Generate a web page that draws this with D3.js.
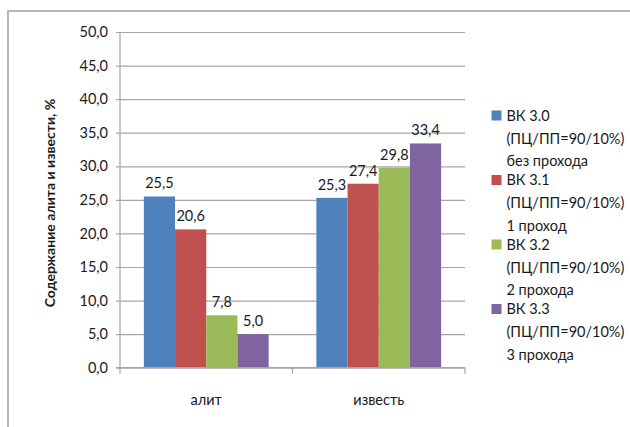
<!DOCTYPE html>
<html>
<head>
<meta charset="utf-8">
<script src="https://cdn.jsdelivr.net/npm/d3@7"></script>
<style>
  html, body { margin: 0; padding: 0; background: #fff; }
  svg { display: block; font-family: Lato, "Open Sans", sans-serif; }
</style>
</head>
<body>
<div id="chart"></div>
<script>
// Categories and series
const categories = ["алит", "известь"];
const seriesNames = [
  ["ВК 3.0", "(ПЦ/ПП=90/10%)", "без прохода"],
  ["ВК 3.1", "(ПЦ/ПП=90/10%)", "1 проход"],
  ["ВК 3.2", "(ПЦ/ПП=90/10%)", "2 прохода"],
  ["ВК 3.3", "(ПЦ/ПП=90/10%)", "3 прохода"]
];
const seriesColors = ["#4F81BD", "#C0504D", "#9BBB59", "#8064A2"];
// values per series: [алит, известь]
const vk30 = [25.5, 25.3];
const vk31 = [20.6, 27.4];
const vk32 = [7.8, 29.8];
const vk33 = [5.0, 33.4];
const seriesValues = [vk30, vk31, vk32, vk33];
const yTicks = [0, 5, 10, 15, 20, 25, 30, 35, 40, 45, 50];
const yTitle = "Содержание алита и извести, %";

const W = 630, H = 427;
const plot = { left: 120, right: 465, top: 32, bottom: 367.7 };
const gridColor = "#a6a6a6";
const textColor = "#1a1a1a";

const svg = d3.select("#chart").append("svg")
  .attr("width", W).attr("height", H);

svg.append("rect").attr("width", W).attr("height", H).attr("fill", "#fff");

// chart frame (runs off the right and bottom edges)
svg.append("rect")
  .attr("x", 8).attr("y", 11)
  .attr("width", 700).attr("height", 500)
  .attr("fill", "none").attr("stroke", "#a0a0a0").attr("stroke-width", 1.5);

const comma = v => d3.format(".1f")(v).replace(".", ",");

const y = d3.scaleLinear().domain([0, 50]).range([plot.bottom, plot.top]);
const x = d3.scaleBand().domain(categories).range([plot.left, plot.right]).padding(0);
const xs = d3.scaleBand().domain(d3.range(seriesValues.length))
  .range([0, x.bandwidth()]).paddingInner(0).paddingOuter(0.765);

// y axis: gridlines, ticks and labels
const yAxis = d3.axisLeft(y).tickValues(yTicks).tickFormat(comma)
  .tickSize(-(plot.right - plot.left)).tickPadding(12);
const gy = svg.append("g").attr("transform", `translate(${plot.left},0)`).call(yAxis);
gy.select(".domain").remove();
gy.selectAll(".tick line").attr("stroke", gridColor).attr("stroke-width", 1.2).attr("x1", -4);
gy.selectAll(".tick text")
  .attr("fill", textColor).attr("font-size", 14.5).attr("font-family", "Lato, sans-serif");

// vertical axis line
svg.append("line")
  .attr("x1", plot.left).attr("x2", plot.left)
  .attr("y1", plot.top).attr("y2", plot.bottom)
  .attr("stroke", gridColor).attr("stroke-width", 1.2);

// bars
const groups = svg.append("g").selectAll("g")
  .data(categories).join("g")
  .attr("transform", d => `translate(${x(d)},0)`);

groups.each(function(cat, ci) {
  const g = d3.select(this);
  seriesValues.forEach((vals, si) => {
    const v = vals[ci];
    g.append("rect")
      .attr("x", xs(si)).attr("width", xs.bandwidth())
      .attr("y", y(v)).attr("height", y(0) - y(v))
      .attr("fill", seriesColors[si]);
    g.append("text")
      .attr("x", xs(si) + xs.bandwidth() / 2)
      .attr("y", y(v) - 8)
      .attr("text-anchor", "middle")
      .attr("font-size", 14.5).attr("fill", textColor)
      .text(comma(v));
  });
});

// x axis line with category boundary ticks
svg.append("line")
  .attr("x1", plot.left - 4).attr("x2", plot.right)
  .attr("y1", plot.bottom).attr("y2", plot.bottom)
  .attr("stroke", gridColor).attr("stroke-width", 1.2);
const bounds = categories.map(c => x(c)).concat([x(categories[categories.length - 1]) + x.bandwidth()]);
svg.append("g").selectAll("line").data(bounds).join("line")
  .attr("x1", d => d).attr("x2", d => d)
  .attr("y1", plot.bottom).attr("y2", plot.bottom + 6)
  .attr("stroke", gridColor).attr("stroke-width", 1.2);
svg.append("g").selectAll("text").data(categories).join("text")
  .attr("x", d => x(d) + x.bandwidth() / 2)
  .attr("y", 405)
  .attr("text-anchor", "middle")
  .attr("font-size", 14.5).attr("fill", textColor)
  .text(d => d);

// y axis title
svg.append("text")
  .attr("transform", `translate(55,203) rotate(-90)`)
  .attr("text-anchor", "middle")
  .attr("font-size", 14).attr("font-weight", "bold").attr("fill", textColor)
  .text(yTitle);

// legend
const legend = svg.append("g").attr("transform", "translate(491.5,110.5)");
const entryStep = 64.5, lineStep = [0, 23, 45.5];
seriesNames.forEach((lines, i) => {
  const e = legend.append("g").attr("transform", `translate(0,${i * entryStep})`);
  e.append("rect").attr("width", 10).attr("height", 10).attr("fill", seriesColors[i]);
  lines.forEach((t, li) => {
    e.append("text")
      .attr("x", 15).attr("y", lineStep[li] + 10)
      .attr("font-size", 14.5).attr("fill", textColor)
      .text(t);
  });
});
</script>
</body>
</html>
